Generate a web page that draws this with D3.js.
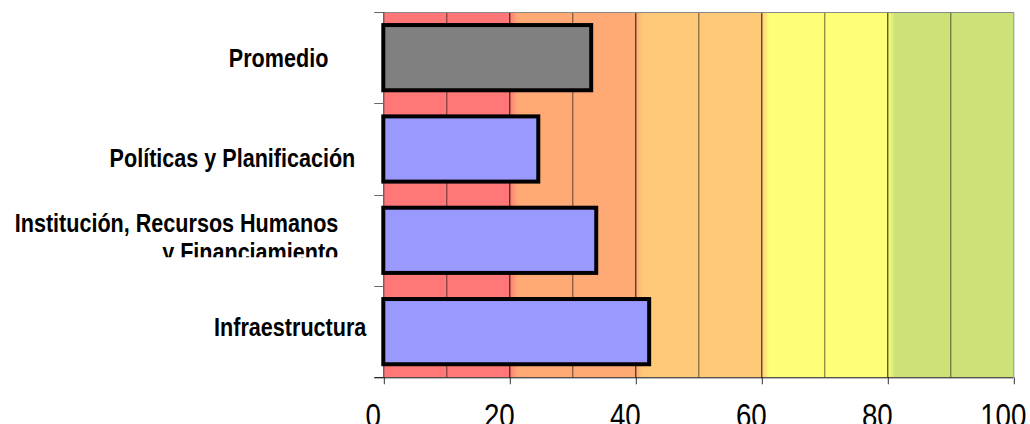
<!DOCTYPE html>
<html>
<head>
<meta charset="utf-8">
<script src="https://cdn.jsdelivr.net/npm/d3@7"></script>
<style>
  html, body { margin: 0; padding: 0; background: #fff; overflow: hidden; }
  svg { display: block; }
  text { font-family: "Liberation Sans", Arial, sans-serif; }
</style>
</head>
<body>
<svg id="chart" width="1030" height="424"></svg>
<script>
// Categories, top to bottom (line breaks mark wrapped labels)
const categories = [
  "Promedio",
  "Políticas y Planificación",
  "Institución, Recursos Humanos\ny Financiamiento",
  "Infraestructura"
];
// Score of each category (0–100)
const scores = [33.0, 24.6, 33.8, 42.2];
// Which bar is the summary bar
const isAverage = [true, false, false, false];
// Axis ticks
const tickValues = [0, 20, 40, 60, 80, 100];
const gridValues = [10, 20, 30, 40, 50, 60, 70, 80, 90];
// Background bands: lower bound, upper bound, colour
const bandLows = [0, 20, 40, 60, 80];
const bandHighs = [20, 40, 60, 80, 100];
const bandColors = ["#ff7777", "#ffaa74", "#ffc977", "#ffff77", "#cce178"];

// Label placement tweaks (pixels) for the category captions
const labelShift = [[-38, 0], [-11, 8.5], [-28, -3], [0, -5]];

const svg = d3.select("#chart");
const plot = { left: 383.3, right: 1013.3, top: 12, bottom: 377.3 };

const x = d3.scaleLinear().domain([0, 100]).range([plot.left, plot.right]);
const y = d3.scaleBand()
  .domain(categories)
  .range([plot.top, plot.bottom])
  .paddingInner(0.286)
  .paddingOuter(0.143);

const defs = svg.append("defs");

// Horizontal gradient: flat colour bands with a short blend after each boundary
const grad = defs.append("linearGradient")
  .attr("id", "bands")
  .attr("gradientUnits", "userSpaceOnUse")
  .attr("x1", x(0)).attr("x2", x(100)).attr("y1", 0).attr("y2", 0);
bandColors.forEach((c, i) => {
  const lo = bandLows[i] / 100, hi = bandHighs[i] / 100;
  grad.append("stop").attr("offset", i === 0 ? lo : lo + 0.013).attr("stop-color", c);
  grad.append("stop").attr("offset", hi).attr("stop-color", c);
});

svg.append("rect")
  .attr("x", x(0)).attr("y", plot.top)
  .attr("width", x(100) - x(0)).attr("height", plot.bottom - plot.top)
  .attr("fill", "url(#bands)");

// Vertical gridlines every 10
svg.append("g").selectAll("line")
  .data(gridValues)
  .join("line")
  .attr("x1", d => x(d) + 0.5).attr("x2", d => x(d) + 0.5)
  .attr("y1", plot.top).attr("y2", plot.bottom)
  .attr("stroke", "#000")
  .attr("stroke-opacity", d => d % 20 === 0 ? 0.9 : 0.6)
  .attr("stroke-width", 1);

// Plot frame: grey top and right edges
svg.append("line")
  .attr("x1", plot.left - 9).attr("x2", plot.right)
  .attr("y1", plot.top + 0.5).attr("y2", plot.top + 0.5)
  .attr("stroke", "#8a8a8a").attr("stroke-width", 1);
svg.append("line")
  .attr("x1", plot.right + 0.5).attr("x2", plot.right + 0.5)
  .attr("y1", plot.top).attr("y2", plot.bottom)
  .attr("stroke", "#8a8a8a").attr("stroke-width", 1);

// Category axis line with boundary ticks
const bounds = categories.map(c => y(c) - y.step() * y.paddingInner() / 2);
bounds.push(plot.bottom);
svg.append("line")
  .attr("x1", plot.left + 0.5).attr("x2", plot.left + 0.5)
  .attr("y1", plot.top).attr("y2", plot.bottom)
  .attr("stroke", "#404040").attr("stroke-width", 1);
svg.append("g").selectAll("line")
  .data(bounds)
  .join("line")
  .attr("x1", plot.left - 9).attr("x2", plot.left)
  .attr("y1", d => Math.round(d) + 0.5).attr("y2", d => Math.round(d) + 0.5)
  .attr("stroke", "#666").attr("stroke-width", 1);

// Bars
svg.append("g").selectAll("rect")
  .data(categories)
  .join("rect")
  .attr("x", x(0))
  .attr("y", d => y(d))
  .attr("width", (d, i) => x(scores[i]) - x(0))
  .attr("height", y.bandwidth())
  .attr("fill", (d, i) => isAverage[i] ? "#808080" : "#9999ff")
  .attr("stroke", "#000")
  .attr("stroke-width", 4);

// Value axis
const xAxis = d3.axisBottom(x).tickValues(tickValues).tickSize(7).tickFormat(d3.format("d"));
const gx = svg.append("g")
  .attr("transform", `translate(0,${plot.bottom})`)
  .call(xAxis);
gx.select(".domain").remove();
gx.selectAll(".tick line").attr("stroke", "#333").attr("transform", "translate(0.5,0)");
gx.selectAll(".tick text").remove();
svg.append("line")
  .attr("x1", plot.left - 9).attr("x2", plot.right)
  .attr("y1", plot.bottom + 0.5).attr("y2", plot.bottom + 0.5)
  .attr("stroke", "#111").attr("stroke-width", 1);

// Tick labels (condensed, large)
svg.append("g").selectAll("g")
  .data(tickValues)
  .join("g")
  .attr("transform", d => `translate(${x(d) - 10},427)`)
  .append("text")
  .attr("transform", "scale(0.84,1)")
  .attr("text-anchor", "middle")
  .attr("font-size", 33)
  .attr("fill", "#000")
  .text(d => d);

// Category labels, right-aligned beside the axis
const labelX = plot.left - 17;
const lineGap = 29;
categories.forEach((cat, i) => {
  const lines = cat.split("\n");
  const cy = y(cat) + y.bandwidth() / 2 + labelShift[i][1];
  const firstBase = cy + 9.3 - (lines.length - 1) * lineGap / 2;
  const clipId = "lab" + i;
  defs.append("clipPath").attr("id", clipId)
    .append("rect")
    .attr("x", 0).attr("y", y(cat) - 30)
    .attr("width", plot.left).attr("height", (cy + 20) - (y(cat) - 30));
  const g = svg.append("g").attr("clip-path", `url(#${clipId})`);
  lines.forEach((ln, j) => {
    g.append("g")
      .attr("transform", `translate(${labelX + labelShift[i][0]},${firstBase + j * lineGap})`)
      .append("text")
      .attr("transform", "scale(0.83,1)")
      .attr("text-anchor", "end")
      .attr("font-size", 26)
      .attr("font-weight", "bold")
      .attr("fill", "#000")
      .text(ln);
  });
});
</script>
</body>
</html>
